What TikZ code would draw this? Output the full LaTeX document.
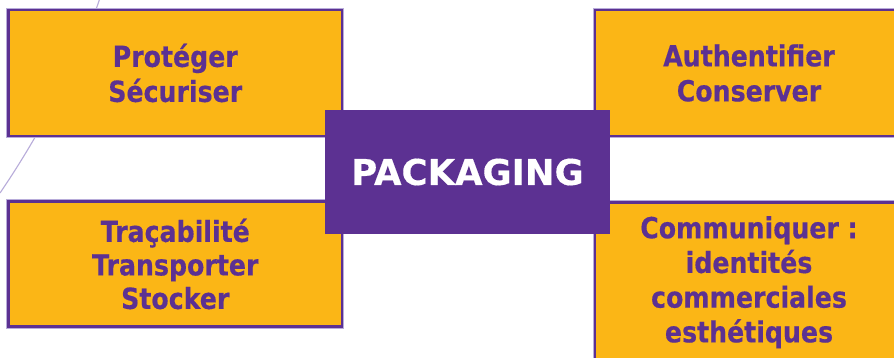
\documentclass[tikz,border=0pt]{standalone}
\usepackage{fontspec}
\setmainfont{DejaVu Sans}
\newfontfamily\boxfont{DejaVu Sans}[FakeStretch=0.87,FakeBold=0.4]
\newfontfamily\centerfont{DejaVu Sans}[FakeBold=0.4]
\definecolor{orangebox}{HTML}{FBB616}
\definecolor{purplebox}{HTML}{5C3192}
\definecolor{lavender}{HTML}{B8ACDA}
\tikzset{
  framebox/.style={draw=purplebox, line width=2.6pt, fill=orangebox,
    preaction={draw=lavender, line width=4.4pt},
    rectangle, inner sep=0pt, align=center, text=purplebox,
    font=\boxfont\bfseries\fontsize{29}{35}\selectfont},
  boxtext/.style={align=center, text=purplebox, inner sep=0pt,
    font=\boxfont\bfseries\fontsize{29}{34.7}\selectfont},
  centerbox/.style={fill=purplebox, rectangle, inner sep=0pt, text=white,
    font=\centerfont\bfseries\fontsize{35.5}{40}\selectfont},
  arcline/.style={draw=lavender, line width=1.1pt}
}
\begin{document}
\begin{tikzpicture}[x=1pt,y=-1pt]
\useasboundingbox (0,0) rectangle (894,357);
\clip (0,0) rectangle (894,357);
\fill[white] (0,0) rectangle (894,357);
\coordinate (arcA) at (100,-2);
\coordinate (arcB) at (0,193);
\draw[arcline] (arcA) .. controls (80,58) and (41,133) .. (arcB);
\node[framebox, minimum width=333.5pt, minimum height=126pt] (tl) at (175.25,73) {Protéger\\Sécuriser};
\node[framebox, minimum width=308pt, minimum height=126pt] (tr) at (749,73) {Authentifier\\Conserver};
\node[framebox, minimum width=333.5pt, minimum height=125pt,
  font=\boxfont\bfseries\fontsize{29}{33.5}\selectfont] (bl) at (175.25,264) {Traçabilité\\Transporter\\Stocker};
\node[framebox, minimum width=308pt, minimum height=200pt, anchor=north] (br) at (749,201) {};
\node[boxtext, anchor=north] (brt) at (749,216) {Communiquer :\\identités\\commerciales\\esthétiques};
\node[centerbox, minimum width=285pt, minimum height=124pt] (c) at (467.5,172) {PACKAGING};
\end{tikzpicture}
\end{document}
